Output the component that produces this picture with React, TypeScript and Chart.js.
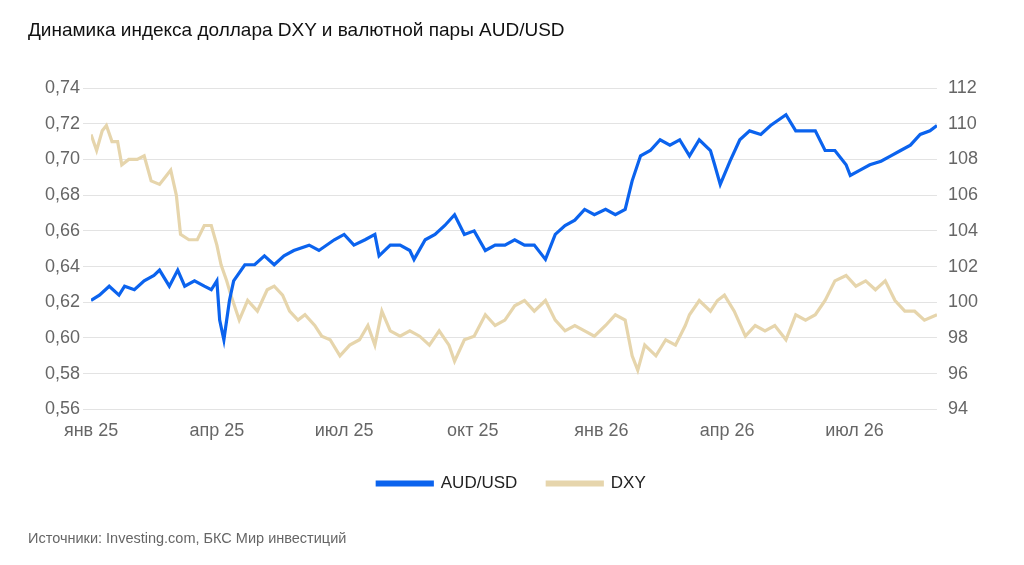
import React, { useEffect, useRef } from "react";
import { Chart, registerables } from "chart.js";
Chart.register(...registerables);

// days since 1 Jan 2025
const audDays = [0,6,13,20,24,31,38,45,49,56,62,67,74,81,86,90,92,95,99,102,110,117,124,131,138,145,156,163,174,181,188,196,203,206,214,221,228,231,239,246,253,260,267,274,282,289,296,303,310,317,325,332,339,346,353,360,368,375,382,387,393,400,407,414,421,428,435,443,446,450,457,464,471,479,486,497,504,511,518,525,532,540,543,550,557,565,572,579,586,593,600,605];
const audValues = [0.621,0.624,0.629,0.624,0.629,0.627,0.632,0.635,0.638,0.629,0.638,0.629,0.632,0.629,0.627,0.632,0.610,0.599,0.621,0.632,0.641,0.641,0.646,0.641,0.646,0.649,0.652,0.649,0.655,0.658,0.652,0.655,0.658,0.646,0.652,0.652,0.649,0.644,0.655,0.658,0.663,0.669,0.658,0.660,0.649,0.652,0.652,0.655,0.652,0.652,0.644,0.658,0.663,0.666,0.672,0.669,0.672,0.669,0.672,0.688,0.702,0.705,0.711,0.708,0.711,0.702,0.711,0.705,0.697,0.686,0.699,0.711,0.716,0.714,0.719,0.725,0.716,0.716,0.716,0.705,0.705,0.697,0.691,0.694,0.697,0.699,0.702,0.705,0.708,0.714,0.716,0.719];

const dxyDays = [0,4,8,11,15,19,22,27,33,38,43,49,54,57,61,64,70,76,81,86,90,93,97,100,106,112,119,126,131,137,142,148,153,160,165,171,178,185,192,198,203,208,214,221,228,235,242,249,256,260,267,274,282,289,296,303,310,317,325,332,339,346,353,360,368,375,382,387,391,396,404,411,418,425,428,435,443,448,453,460,468,475,482,489,497,504,511,518,525,532,540,547,554,561,568,575,582,589,596,605];
const dxyValues = [109.4,108.5,109.6,109.9,109.0,109.0,107.7,108.0,108.0,108.2,106.8,106.6,107.1,107.4,106.0,103.8,103.5,103.5,104.3,104.3,103.2,102.1,101.2,100.4,99.0,100.1,99.5,100.7,100.9,100.4,99.5,99.0,99.3,98.7,98.1,97.9,97.0,97.6,97.9,98.7,97.6,99.5,98.4,98.1,98.4,98.1,97.6,98.4,97.6,96.7,97.9,98.1,99.3,98.7,99.0,99.8,100.1,99.5,100.1,99.0,98.4,98.7,98.4,98.1,98.7,99.3,99.0,97.0,96.2,97.6,97.0,97.9,97.6,98.7,99.3,100.1,99.5,100.1,100.4,99.5,98.1,98.7,98.4,98.7,97.9,99.3,99.0,99.3,100.1,101.2,101.5,100.9,101.2,100.7,101.2,100.1,99.5,99.5,99.0,99.3];

const tickDays = [0, 90, 181, 273, 365, 455, 546];
const tickLabels = ["янв 25", "апр 25", "июл 25", "окт 25", "янв 26", "апр 26", "июл 26"];

const FONT = "'Liberation Sans', Arial, sans-serif";

export default function App() {
  const ref = useRef<HTMLCanvasElement>(null);
  useEffect(() => {
    document.body.style.margin = "0";
    const chart = new Chart(ref.current!, {
      type: "line",
      data: {
        datasets: [
          {
            label: "AUD/USD",
            data: audDays.map((d, i) => ({ x: d, y: audValues[i] })),
            borderColor: "#0b63ee",
            backgroundColor: "#0b63ee",
            borderWidth: 3.2,
            pointRadius: 0,
            yAxisID: "y",
            tension: 0,
          },
          {
            label: "DXY",
            data: dxyDays.map((d, i) => ({ x: d, y: dxyValues[i] })),
            borderColor: "#e6d5ac",
            backgroundColor: "#e6d5ac",
            borderWidth: 3.2,
            pointRadius: 0,
            yAxisID: "y1",
            tension: 0,
          },
        ],
      },
      options: {
        animation: false,
        responsive: false,
        layout: { padding: { left: 42, right: 43, top: 88, bottom: 63 } },
        plugins: {
          legend: {
            position: "bottom",
            labels: { boxWidth: 55, boxHeight: 3, padding: 30, color: "#222", font: { family: FONT, size: 17 } },
          },
          tooltip: { enabled: false },
        },
        scales: {
          x: {
            type: "linear",
            min: 0,
            max: 605,
            grid: { display: false },
            border: { display: false },
            afterBuildTicks: (axis: any) => {
              axis.ticks = tickDays.map((v) => ({ value: v }));
            },
            ticks: {
              color: "#666",
              font: { family: FONT, size: 18 },
              maxRotation: 0,
              autoSkip: false,
              callback: (v: any) => {
                const i = tickDays.indexOf(Number(v));
                return i >= 0 ? tickLabels[i] : "";
              },
            },
          },
          y: {
            position: "left",
            min: 0.56,
            max: 0.74,
            grid: { color: "#e3e3e3" },
            border: { display: false },
            ticks: {
              stepSize: 0.02,
              color: "#666",
              font: { family: FONT, size: 18 },
              callback: (v: any) => Number(v).toFixed(2).replace(".", ","),
            },
          },
          y1: {
            position: "right",
            min: 94,
            max: 112,
            grid: { display: false },
            border: { display: false },
            ticks: { stepSize: 2, color: "#666", font: { family: FONT, size: 18 } },
          },
        },
      },
    });
    return () => chart.destroy();
  }, []);
  return (
    <div style={{ position: "relative", width: 1024, height: 565, background: "#fff", fontFamily: FONT }}>
      <div style={{ position: "absolute", left: 28, top: 19, fontSize: 19, color: "#111" }}>
        Динамика индекса доллара DXY и валютной пары AUD/USD
      </div>
      <canvas ref={ref} width={1024} height={565} style={{ display: "block" }} />
      <div style={{ position: "absolute", left: 28, top: 530, fontSize: 14.5, color: "#666" }}>
        Источники: Investing.com, БКС Мир инвестиций
      </div>
    </div>
  );
}
